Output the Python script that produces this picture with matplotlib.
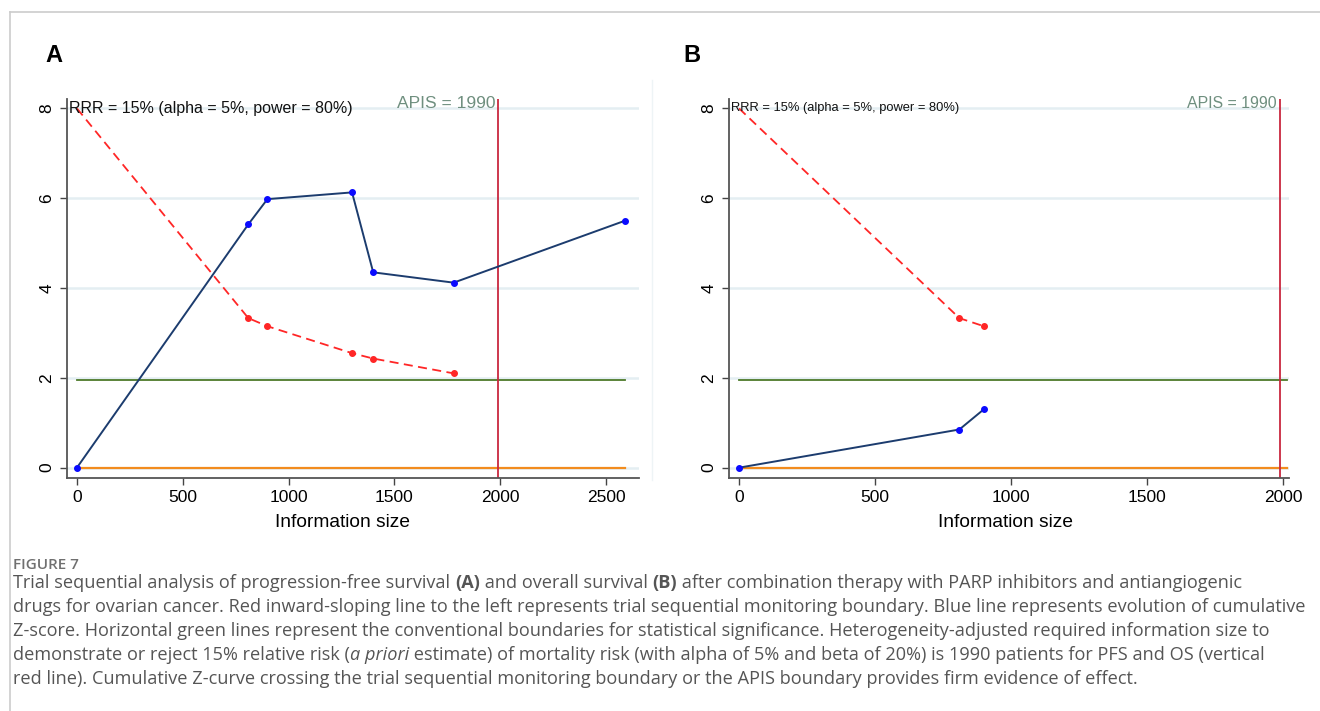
import numpy as np
import matplotlib.pyplot as plt
from matplotlib.lines import Line2D

# Panel A: progression-free survival
a_info = [0, 810, 900, 1300, 1400, 1780, 2590]
a_z = [0, 5.42, 5.98, 6.13, 4.35, 4.12, 5.50]
a_bound_info = [0, 810, 900, 1300, 1400, 1780]
a_bound = [8.0, 3.33, 3.15, 2.55, 2.43, 2.10]

# Panel B: overall survival
b_info = [0, 810, 900]
b_z = [0, 0.85, 1.30]
b_bound_info = [0, 810, 900]
b_bound = [8.0, 3.33, 3.15]

apis = 1990
z_conv = 1.96
yticks = [0, 2, 4, 6, 8]
a_xticks = [0, 500, 1000, 1500, 2000, 2500]
b_xticks = [0, 500, 1000, 1500, 2000]

rrr_label = "RRR = 15% (alpha = 5%, power = 80%)"
apis_label = "APIS = 1990"

caption_lines = [
    [("Trial sequential analysis of progression-free survival ", "normal", "normal"),
     ("(A)", "bold", "normal"),
     (" and overall survival ", "normal", "normal"),
     ("(B)", "bold", "normal"),
     (" after combination therapy with PARP inhibitors and antiangiogenic", "normal", "normal")],
    [("drugs for ovarian cancer. Red inward-sloping line to the left represents trial sequential monitoring boundary. Blue line represents evolution of cumulative", "normal", "normal")],
    [("Z-score. Horizontal green lines represent the conventional boundaries for statistical significance. Heterogeneity-adjusted required information size to", "normal", "normal")],
    [("demonstrate or reject 15% relative risk (", "normal", "normal"),
     ("a priori", "normal", "italic"),
     (" estimate) of mortality risk (with alpha of 5% and beta of 20%) is 1990 patients for PFS and OS (vertical", "normal", "normal")],
    [("red line). Cumulative Z-curve crossing the trial sequential monitoring boundary or the APIS boundary provides firm evidence of effect.", "normal", "normal")],
]

plt.rcParams['font.family'] = ['Liberation Sans', 'DejaVu Sans']

W, H = 1320, 711
fig = plt.figure(figsize=(W / 100, H / 100), dpi=100)


def fx(px):
    return px / W


def fy(py):
    return 1 - py / H


def draw_panel(ax, info, z, binfo, bound, line_end, xlim, xticks, rrr_size, apis_size, label_x):
    for yv in yticks:
        ax.axhline(yv, color='#e4eef2', lw=1.8, zorder=0)
    ax.plot([0, line_end], [0, 0], color='#f28c1e', lw=1.6, zorder=2)
    ax.plot([0, line_end], [z_conv, z_conv], color='#4d7a2a', lw=1.3, zorder=2)
    ax.axvline(apis, color='#c9273f', lw=1.3, zorder=2)
    ax.plot(binfo, bound, color='#ff2626', lw=1.3, ls=(0, (5, 3)),
            marker='o', ms=4, markevery=list(range(1, len(binfo))), zorder=3)
    ax.plot(info, z, color='#1c3c6e', lw=1.4, marker='o', ms=4,
            mfc='#0a0aff', mec='#0a0aff', zorder=4)

    ax.set_xlim(*xlim)
    ax.set_ylim(-0.23, 8.21)
    ax.set_xticks(xticks)
    ax.set_yticks(yticks)
    ax.tick_params(axis='x', labelsize=12.5, length=5, width=1, color='#444', pad=4)
    ax.tick_params(axis='y', labelsize=12.5, length=5, width=1, color='#444',
                   labelrotation=90, pad=4)
    for lab in ax.get_yticklabels():
        lab.set_va('center')
    ax.set_xlabel("Information size", fontsize=13.8, labelpad=5)
    ax.xaxis.set_label_coords(label_x, -0.094)
    for s in ['top', 'right']:
        ax.spines[s].set_visible(False)
    for s in ['left', 'bottom']:
        ax.spines[s].set_color('#555555')
        ax.spines[s].set_linewidth(1.3)

    ax.text(0.003, 8.0, rrr_label, transform=ax.get_yaxis_transform(),
            fontsize=rrr_size, va='center', ha='left', color='#111111', zorder=5)
    ax.text(apis - 12, 8.12, apis_label, fontsize=apis_size, va='center', ha='right',
            color='#6f8f7f', zorder=5)


ax_a = fig.add_axes([fx(67), fy(478), fx(639) - fx(67), fy(99) - fy(478)])
draw_panel(ax_a, a_info, a_z, a_bound_info, a_bound, max(a_info), (-47, 2656),
           a_xticks, 11.5, 12.5, 0.481)

ax_b = fig.add_axes([fx(729), fy(478), fx(1289) - fx(729), fy(99) - fy(478)])
draw_panel(ax_b, b_info, b_z, b_bound_info, b_bound, 2015, (-37, 2022),
           b_xticks, 9.3, 11.4, 0.493)

# panel letters
fig.text(fx(45), fy(55), "A", fontsize=17, fontweight='bold', va='center', ha='left')
fig.text(fx(683), fy(55), "B", fontsize=17, fontweight='bold', va='center', ha='left')

# page frame lines
fig.add_artist(Line2D([fx(10), fx(10)], [fy(12), 0], color='#cccccc', lw=1.2))
fig.add_artist(Line2D([fx(10), 1], [fy(12), fy(12)], color='#cccccc', lw=1.2))
fig.add_artist(Line2D([fx(652), fx(652)], [fy(80), fy(480)], color='#eef4f6', lw=1.0))

# caption
cap_font = ['Open Sans', 'DejaVu Sans']
cap_color = '#555555'
fig.text(fx(13), fy(565), "FIGURE 7", fontsize=11, fontweight='semibold',
         color='#707070', family=cap_font, va='center', ha='left')

renderer = fig.canvas.get_renderer()

# fit caption size so the second line spans the text column
probe = fig.text(0, 0, caption_lines[1][0][0], fontsize=12, family=cap_font)
probe_w = probe.get_window_extent(renderer).width
probe.remove()
cap_size = 12 * 1290 / probe_w

for i, segs in enumerate(caption_lines):
    x = 13
    y = 583 + 24 * i
    for txt, weight, style in segs:
        t = fig.text(fx(x), fy(y), txt, fontsize=cap_size, fontweight=weight,
                     fontstyle=style, color=cap_color, family=cap_font,
                     va='center', ha='left')
        x += t.get_window_extent(renderer).width

fig.savefig("out.png", dpi=100)
